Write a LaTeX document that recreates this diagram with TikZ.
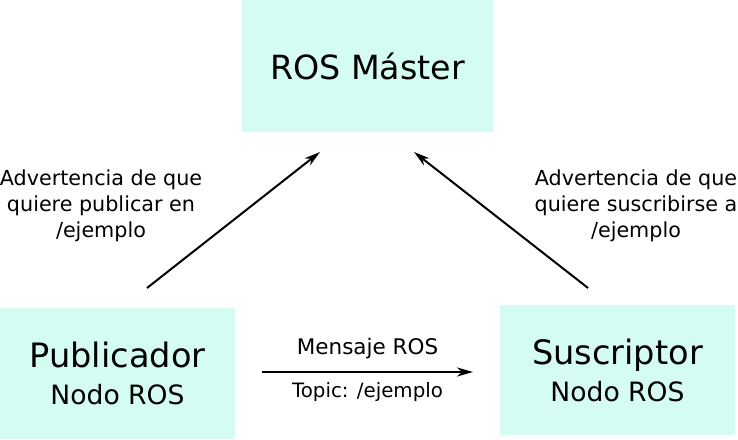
\documentclass[tikz,border=0pt]{standalone}
\usepackage{fontspec}
\setmainfont{DejaVu Sans}
\usetikzlibrary{arrows.meta}
\definecolor{rosfill}{RGB}{213,252,243}
\begin{document}
\begin{tikzpicture}
% 1pt = 1px of the 738x439 page
[x=1pt, y=1pt, line width=2pt,
 nodebox/.style={fill=rosfill, draw=none, inner sep=0pt, align=center},
 note/.style={align=center, font=\fontsize{20.7}{26}\selectfont},
 link/.style={-{Stealth[length=16pt,width=9pt,inset=5pt]}}]
\useasboundingbox (0,0) rectangle (738,439);
% the three boxes
\node[nodebox, minimum width=251pt, minimum height=132pt,
  font=\fontsize{33.3}{40}\selectfont] (master) at (367.5,373) {ROS Máster};
\node[nodebox, minimum width=235pt, minimum height=131pt,
  font=\fontsize{26.6}{37}\selectfont] (pub) at (117.5,65.5)
  {{\fontsize{33.6}{37}\selectfont Publicador}\\Nodo ROS};
\node[nodebox, minimum width=235pt, minimum height=130pt,
  font=\fontsize{26.6}{37}\selectfont] (sus) at (617.5,69)
  {{\fontsize{33.6}{37}\selectfont Suscriptor}\\Nodo ROS};
% arrow ends, kept off the boxes
\coordinate (pub out) at ([shift={(29.5pt,19pt)}]pub.north);
\coordinate (pub in) at ([shift={(-47.5pt,-19pt)}]master.south);
\coordinate (sus out) at ([shift={(-29.5pt,16pt)}]sus.north);
\coordinate (sus in) at ([shift={(46.5pt,-19pt)}]master.south);
\draw[link] (pub out) -- (pub in);
\draw[link] (sus out) -- (sus in);
\draw[link] ([shift={(26pt,1.5pt)}]pub.east) -- ([shift={(-26pt,-2pt)}]sus.west)
  node[midway, yshift=23pt, font=\fontsize{21.5}{26}\selectfont] (msg) {Mensaje ROS}
  node[midway, yshift=-20pt, font=\fontsize{19.8}{26}\selectfont] (topic) {Topic: /ejemplo};
% notes beside the slanted arrows
\node[note] (pubnote) at (101,233) {Advertencia de que\\quiere publicar en\\/ejemplo};
\node[note] (susnote) at (636,233) {Advertencia de que\\quiere suscribirse a\\/ejemplo};
\end{tikzpicture}
\end{document}
